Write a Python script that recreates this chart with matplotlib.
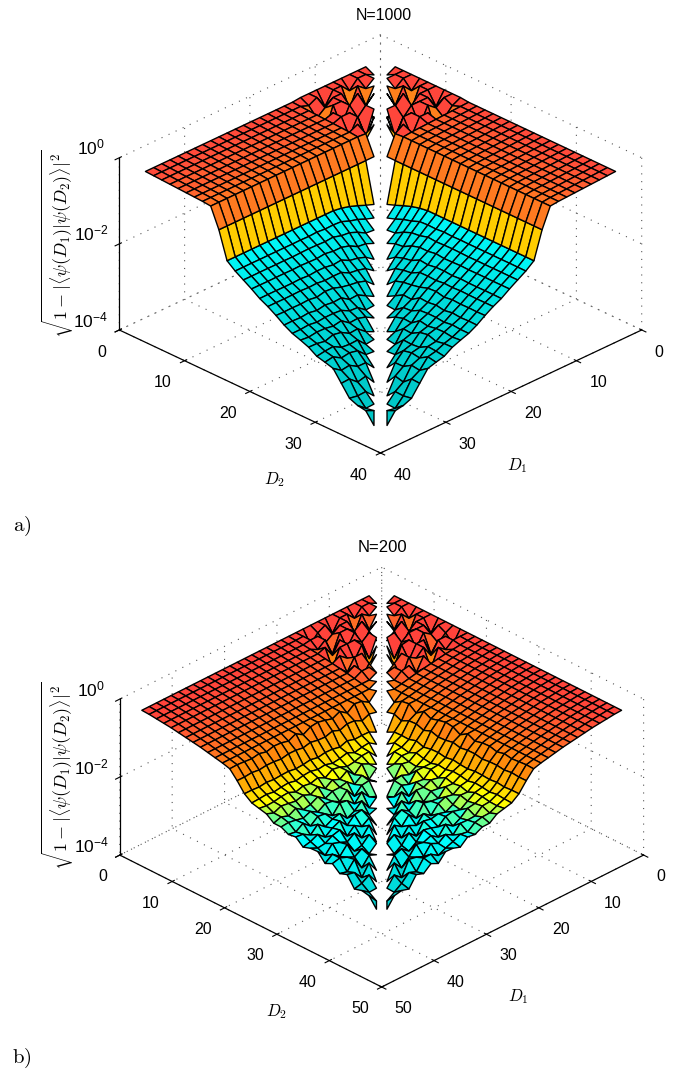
import numpy as np
import matplotlib
matplotlib.use("Agg")
import matplotlib.pyplot as plt
from matplotlib.colors import LinearSegmentedColormap, Normalize
from matplotlib.transforms import Affine2D
from mpl_toolkits.mplot3d import proj3d
from mpl_toolkits.mplot3d.art3d import Poly3DCollection

plt.rcParams['font.family'] = ['Liberation Sans', 'DejaVu Sans']

W, H = 678, 1072

# ---------- panel a (N=1000): log10 overlap read per row (smaller D, step 1.25 from 3.75)
title_a = "N=1000"
ticks_a = [0, 10, 20, 30, 40]
D_a = [3.75 + 1.25 * k for k in range(30)]
profile_a = [-0.05, -0.06, -0.07, -0.08, -0.09, -0.10, -0.11, -0.12, -0.14, -0.60,
             -1.23, -1.38, -1.50, -1.62, -1.75, -1.85, -1.97, -2.10, -2.20, -2.28,
             -2.36, -2.45, -2.53, -2.62, -2.78, -2.95, -3.05, -3.00, -3.15]
amp_a = [0.00, 0.30, 0.45, 0.55, 0.60, 0.60, 0.55, 0.45, 0.35, 0.00,
         0.00, 0.02, 0.03, 0.03, 0.04, 0.04, 0.05, 0.05, 0.05, 0.06,
         0.06, 0.07, 0.08, 0.08, 0.08, 0.07, 0.06, 0.05, 0.00]
diag_a = [-0.30, -0.23, -0.15, -0.08, -0.03]
spread_a = [1.0, 1.0, 0.9, 0.8, 0.7, 0.6, 0.5, 0.4, 0.3, 0.2, 0.1, 0.05]
stops_a = [(-3.4, (0, 195, 195)), (-2.5, (0, 208, 208)), (-1.8, (0, 225, 225)), (-1.23, (0, 245, 245)),
           (-1.05, (0, 250, 250)), (-0.75, (255, 212, 0)), (-0.6, (255, 205, 0)), (-0.25, (255, 135, 25)),
           (-0.14, (255, 125, 30)), (-0.05, (255, 78, 58)), (0.0, (255, 60, 60))]
red_limit_a = 17.0
n_red_a = 9

# ---------- panel b (N=200): step 1.4 from 3.8
title_b = "N=200"
ticks_b = [0, 10, 20, 30, 40, 50]
D_b = [3.8 + 1.4 * k for k in range(34)]
profile_b = [-0.03, -0.04, -0.06, -0.08, -0.10, -0.13, -0.16, -0.19, -0.22, -0.26,
             -0.30, -0.34, -0.41, -0.60, -0.85, -0.97, -1.04, -1.11, -1.19, -1.26,
             -1.30, -1.34, -1.38, -1.42, -1.47, -1.52, -1.57, -1.62, -1.68, -1.74,
             -1.82, -1.90, -2.02]
amp_b = [0.00, 0.30, 0.40, 0.45, 0.45, 0.45, 0.45, 0.45, 0.40, 0.35,
         0.30, 0.22, 0.12, 0.05, 0.04, 0.06, 0.09, 0.11, 0.13, 0.14,
         0.15, 0.15, 0.15, 0.15, 0.15, 0.15, 0.15, 0.15, 0.15, 0.14,
         0.12, 0.10, 0.00]
diag_b = [-0.08, -0.05, -0.03]
spread_b = [1.0, 1.0, 1.0, 0.9, 0.9, 0.8, 0.7, 0.7, 0.6, 0.6, 0.5, 0.5, 0.4, 0.4, 0.35, 0.3,
            0.3, 0.25, 0.2, 0.2]
stops_b = [(-2.05, (0, 198, 198)), (-1.8, (0, 210, 210)), (-1.5, (0, 235, 235)), (-1.3, (0, 255, 255)),
           (-1.13, (125, 255, 125)), (-0.98, (255, 255, 0)), (-0.8, (255, 205, 0)),
           (-0.4, (255, 140, 10)), (-0.2, (255, 105, 40)), (0.0, (255, 62, 62))]
red_limit_b = 21.0
n_red_b = 12

# roughness read as a small pattern of dips and bumps near the diagonal
rough = [[ 2, -2,  3, -1, -3,  2,  1, -2,  3, -3,  1],
         [-3,  1, -1,  3,  2, -2,  3,  1, -3,  2, -1],
         [ 1,  3, -3,  2, -1,  1, -3,  3,  2, -1, -2],
         [ 3, -1,  2, -3,  3, -2,  2, -1,  1,  3, -3],
         [-2,  2,  1,  1, -2,  3, -1, -3,  3, -2,  2],
         [ 2, -3,  3, -2,  1,  2, -2,  2, -1,  1,  3],
         [-1,  3, -2,  2,  3, -3,  1,  2, -3,  3, -2]]


def make_z(D, profile, amp, diag, spread, red_limit, n_red):
    n = len(D)
    z = np.full((n, n), np.nan)
    for r in range(n - 1):
        for c in range(r + 1, n):
            d = c - r
            v = profile[r]
            t = rough[r % 7][c % 11] / 3.0
            if r < n_red:
                if D[c] < red_limit:
                    v = min(v + 0.1, -0.03) + amp[r] * min(t, 0.0)
            else:
                if r > n_red and d <= len(diag):
                    v += diag[d - 1]
                s = spread[d - 1] if d <= len(spread) else spread[-1]
                v += amp[r] * s * t
            z[r, c] = v
    return z


def polygons(D, z, shift):
    g = np.asarray(D)
    n = len(g)
    polys, vals = [], []

    def add(rr, cc):
        zs = [z[a, b] for a, b in zip(rr, cc)]
        low = [g[a] for a in rr]
        high = [g[b] for b in cc]
        polys.append(list(zip([h - shift for h in high], [l + shift for l in low], zs)))
        polys.append(list(zip([l + shift for l in low], [h - shift for h in high], zs)))
        vals.extend([zs[0]] * 2)      # flat shading takes the colour of the first corner

    for r in range(n - 1):
        for c in range(r + 2, n - 1):
            add([r, r + 1, r + 1, r], [c, c, c + 1, c + 1])
    add([n - 3, n - 2, n - 3], [n - 1, n - 1, n - 2])   # the last spike at the far end of the gap
    return polys, vals


def px(ax, x, y, z):
    xp, yp, _ = proj3d.proj_transform(x, y, z, ax.get_proj())
    ax.apply_aspect()
    dx, dy = ax.transData.transform((xp, yp))
    return dx, H - dy


def fit(ax, lim, zlo, left, front):
    for _ in range(3):
        lx, ly = px(ax, lim, 0, zlo)
        rx, ry = px(ax, 0, lim, zlo)
        pos = ax.get_position(original=True)
        size = pos.width * W * (2 * (front[0] - left[0])) / abs(rx - lx)
        l = pos.x0 * W + (pos.width * W - size) / 2
        b = pos.y0 * H + (pos.height * H - size) / 2
        ax.set_position([l / W, b / H, size / W, size / H])
        fx, fy = px(ax, lim, lim, zlo)
        l += front[0] - fx
        b -= front[1] - fy
        ax.set_position([l / W, b / H, size / W, size / H])


def panel(fig, title, ticks, D, profile, amp, diag, spread, stops, red_limit, n_red,
          elev, zaspect, left, front, shift, title_xy, title_size):
    ax = fig.add_axes([0.1, 0.1, 0.8, 0.8 * W / H], projection='3d')
    ax.set_proj_type('ortho')
    ax.view_init(elev=elev, azim=45)
    lim = ticks[-1]
    ax.set_box_aspect((1, 1, zaspect))
    ax.set_xlim(0, lim, view_margin=0)
    ax.set_ylim(0, lim, view_margin=0)
    ax.set_zlim(-4, 0, view_margin=0)
    z = make_z(D, profile, amp, diag, spread, red_limit, n_red)
    polys, vals = polygons(D, z, shift)
    lo, hi = stops[0][0], stops[-1][0]
    cmap = LinearSegmentedColormap.from_list(
        'surf', [((s - lo) / (hi - lo), tuple(v / 255 for v in col)) for s, col in stops])
    col = cmap(Normalize(lo, hi)(vals))
    ax.add_collection3d(Poly3DCollection(polys, facecolors=col, edgecolors='k',
                                         linewidths=1.0, zsort='average'))
    ax.set_xticks(ticks)
    ax.set_yticks(ticks)
    ax.set_zticks([-4, -2, 0])
    ax.set_zticklabels([r'$\mathdefault{10^{-4}}$', r'$\mathdefault{10^{-2}}$', r'$\mathdefault{10^{0}}$'])
    ax.tick_params(labelsize=11.5, pad=2)
    ax.tick_params(axis='z', labelsize=12.5, pad=3)
    up = ax.transData + Affine2D().translate(0, 5)
    for t in ax.xaxis.get_major_ticks():
        t.label1.set_ha('left')
        t.label1.set_transform(up)
    for t in ax.yaxis.get_major_ticks():
        t.label1.set_ha('right')
        t.label1.set_transform(up)
    for t in ax.zaxis.get_major_ticks():
        t.label1.set_va('bottom')
    for axis in (ax.xaxis, ax.yaxis, ax.zaxis):
        axis.set_pane_color((1, 1, 1, 0))
        axis.pane.set_edgecolor((1, 1, 1, 0))
        axis._axinfo['grid'].update(color='#555555', linestyle=(0, (1, 6)), linewidth=0.8)
        axis.line.set_linewidth(0.9)
    fit(ax, lim, -4, left, front)
    fig.text(title_xy[0] / W, 1 - title_xy[1] / H, title, ha='center', va='center', fontsize=title_size)
    return ax


fig = plt.figure(figsize=(W / 100, H / 100), dpi=100)
panel(fig, title_a, ticks_a, D_a, profile_a, amp_a, diag_a, spread_a, stops_a, red_limit_a, n_red_a,
      28.1, 0.5285, (119.3, 330), (380.5, 453), 0.125, (384, 16), 11.5)
panel(fig, title_b, ticks_b, D_b, profile_b, amp_b, diag_b, spread_b, stops_b, red_limit_b, n_red_b,
      30.25, 0.4875, (119.8, 855), (381.7, 987), 0.2, (382, 548), 12)

zlabel = r'$\sqrt{1-|\langle\psi(D_1)|\psi(D_2)\rangle|^2}$'
for y, xl, yl1 in [(244, (517, 466), (275, 480)), (776, (518, 997), (277, 1012))]:
    fig.text(58 / W, 1 - y / H, zlabel, rotation=90, ha='center', va='center',
             fontsize=13, math_fontfamily='cm')
    fig.text(xl[0] / W, 1 - xl[1] / H, r'$D_1$', ha='center', va='center', fontsize=12, math_fontfamily='cm')
    fig.text(yl1[0] / W, 1 - yl1[1] / H, r'$D_2$', ha='center', va='center', fontsize=12, math_fontfamily='cm')
fig.text(22 / W, 1 - 526 / H, r'$\mathrm{a)}$', ha='center', va='center', fontsize=15, math_fontfamily='cm')
fig.text(22 / W, 1 - 1058 / H, r'$\mathrm{b)}$', ha='center', va='center', fontsize=15, math_fontfamily='cm')

fig.savefig('out.png', dpi=100)
